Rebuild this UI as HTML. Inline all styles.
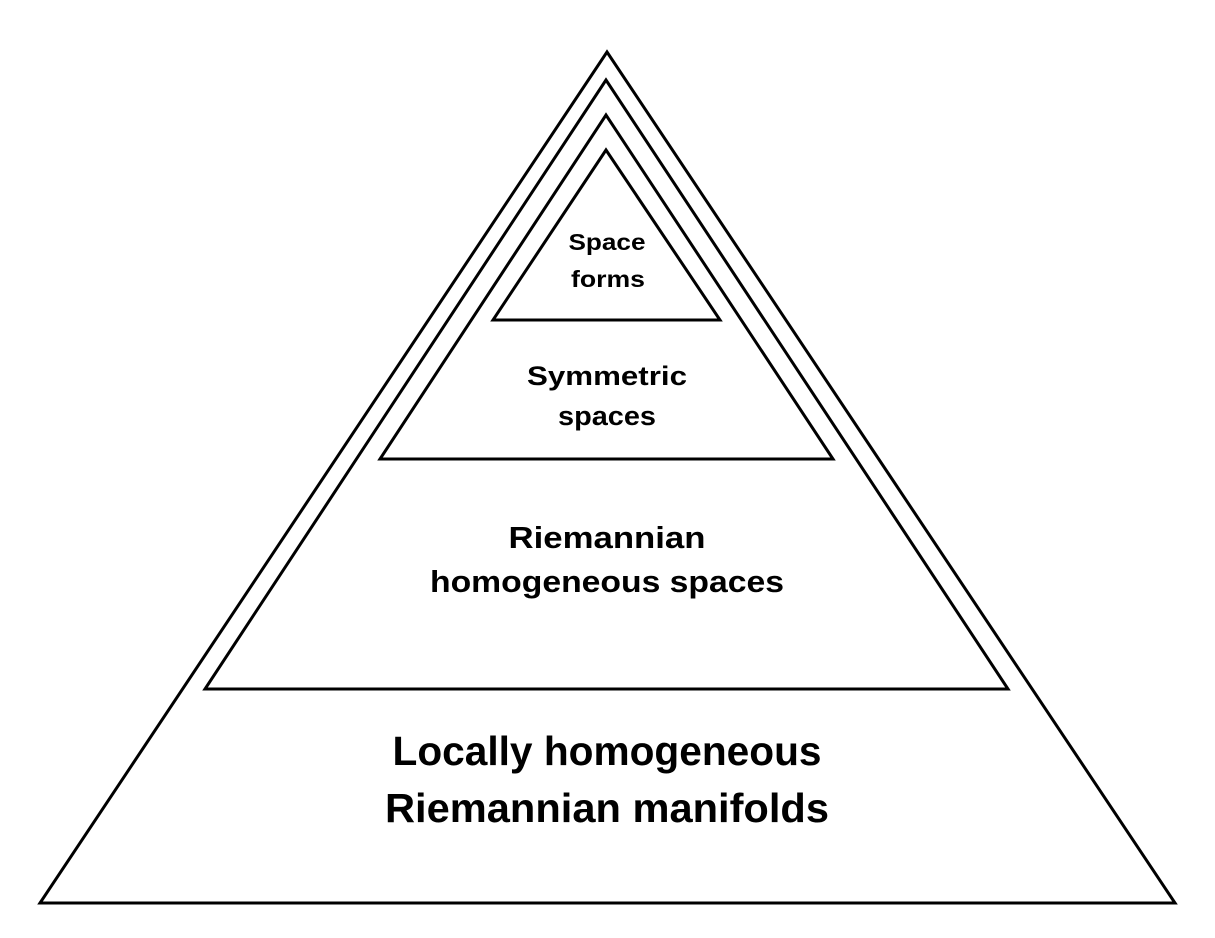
<!DOCTYPE html>
<html><head><meta charset="utf-8"><style>html,body{margin:0;padding:0;background:#fff}svg{display:block}</style></head>
<body>
<svg width="1215" height="938" viewBox="0 0 1215 938" font-family="'Liberation Sans', sans-serif" font-weight="bold" text-anchor="middle" fill="#000">
<rect width="1215" height="938" fill="#fff"/>
<polygon points="607,52 40,903 1175,903" fill="none" stroke="#000" stroke-width="3"/>
<polygon points="606,80 205,689 1008,689" fill="none" stroke="#000" stroke-width="3"/>
<polygon points="606,115 380,459 833,459" fill="none" stroke="#000" stroke-width="3"/>
<polygon points="606,150 493,320 720,320" fill="none" stroke="#000" stroke-width="3"/>
<text x="607" y="250" font-size="23" textLength="77" lengthAdjust="spacingAndGlyphs">Space</text>
<text x="608" y="287" font-size="23" textLength="74" lengthAdjust="spacingAndGlyphs">forms</text>
<text x="607" y="385" font-size="27" textLength="160" lengthAdjust="spacingAndGlyphs">Symmetric</text>
<text x="607" y="425" font-size="27" textLength="98" lengthAdjust="spacingAndGlyphs">spaces</text>
<text x="607" y="548" font-size="31" textLength="197" lengthAdjust="spacingAndGlyphs">Riemannian</text>
<text x="607" y="592" font-size="31" textLength="354" lengthAdjust="spacingAndGlyphs">homogeneous spaces</text>
<text x="607" y="765" font-size="41" textLength="429" lengthAdjust="spacingAndGlyphs">Locally homogeneous</text>
<text x="607" y="822" font-size="41" textLength="444" lengthAdjust="spacingAndGlyphs">Riemannian manifolds</text>
</svg>
</body></html>
